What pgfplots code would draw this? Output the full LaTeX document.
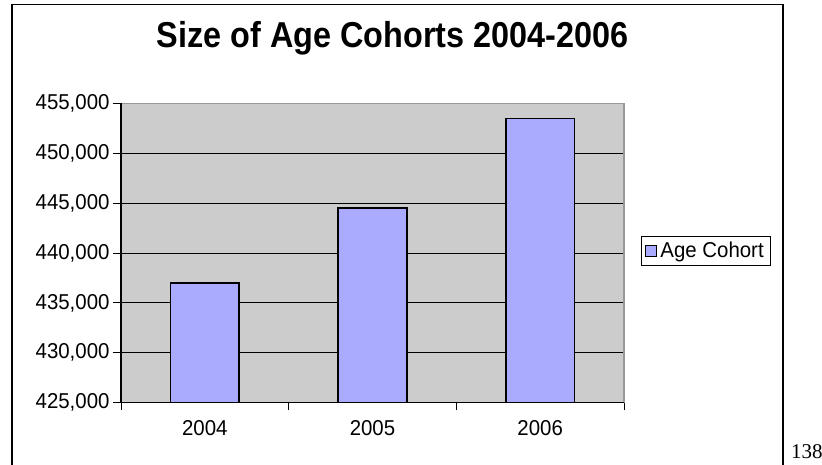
\documentclass[border=0pt]{standalone}
\usepackage{fontspec}
\setmainfont{Liberation Sans}
\newfontfamily\labelfont{Liberation Sans}[FakeStretch=0.95]
\newfontfamily\titlefont{Liberation Sans}[FakeStretch=0.9]
\newfontfamily\serifnum{Liberation Serif}
\usepackage{pgfplots}
\pgfplotsset{compat=1.18}
\definecolor{plotgray}{HTML}{CCCCCC}
\definecolor{barblue}{HTML}{AAAAFF}
\definecolor{bordergray}{HTML}{999999}

\begin{document}
\begin{tikzpicture}
\useasboundingbox (0,0) rectangle (822bp,465bp);
\fill[white] (0,0) rectangle (822bp,465bp);
\draw[line width=1.3bp] (12bp,-5bp) -- (12bp,460.3bp) -- (783bp,460.3bp) -- (783bp,-5bp);
\node[anchor=west,inner sep=0pt,font=\serifnum\fontsize{21bp}{24bp}\selectfont] at (791bp,13bp) {138};
\begin{axis}[
  at={(121bp,62.3bp)}, anchor=south west,
  width=503bp, height=299.4bp, scale only axis,
  xmin=-0.5, xmax=2.5, ymin=425000, ymax=455000,
  axis background/.style={fill=plotgray},
  axis line style={draw=bordergray, line width=1.2bp},
  xtick={0,1,2}, xticklabels={2004,2005,2006},
  minor xtick={-0.5,0.5,1.5,2.5},
  ytick={425000,430000,...,455000},
  xtick pos=bottom, ytick pos=left,
  tick align=outside,
  major x tick style={draw=none},
  minor x tick style={black, line width=0.8bp},
  y tick style={black, line width=0.8bp},
  major tick length=8bp, minor tick length=7bp,
  ymajorgrids, major grid style={black, line width=0.8bp},
  scaled y ticks=false,
  yticklabel style={/pgf/number format/.cd, fixed, 1000 sep={,}},
  /pgf/number format/assume math mode=true,
  tick label style={font=\labelfont\fontsize{21.5bp}{25bp}\selectfont},
  xticklabel style={yshift=-6bp},
  title={Size of Age Cohorts 2004-2006},
  title style={at={(0.54,1.165)}, anchor=base, inner sep=0pt, font=\titlefont\bfseries\fontsize{36bp}{40bp}\selectfont},
  legend style={at={(1.0344,0.5578)}, anchor=north west, draw=black, line width=0.8bp, fill=white,
    font=\labelfont\fontsize{21.5bp}{25bp}\selectfont, inner xsep=3bp, inner ysep=0bp,
    nodes={inner xsep=3.5bp, inner ysep=6bp}},
  legend image code/.code={\draw[fill=barblue, draw=black, line width=1.2bp] (0bp,-5.5bp) rectangle (11bp,5.5bp);},
  after end axis/.code={\draw[black, line width=1.2bp] (rel axis cs:0,1) -- (rel axis cs:0,0) -- (rel axis cs:1,0);},
]
\addplot[ybar, bar width=68.6bp, bar shift=0pt, fill=barblue, draw=black, line width=1.5bp] coordinates {(0,437000) (1,444500) (2,453500)};
\addlegendentry{Age Cohort}
\end{axis}
\end{tikzpicture}
\end{document}
